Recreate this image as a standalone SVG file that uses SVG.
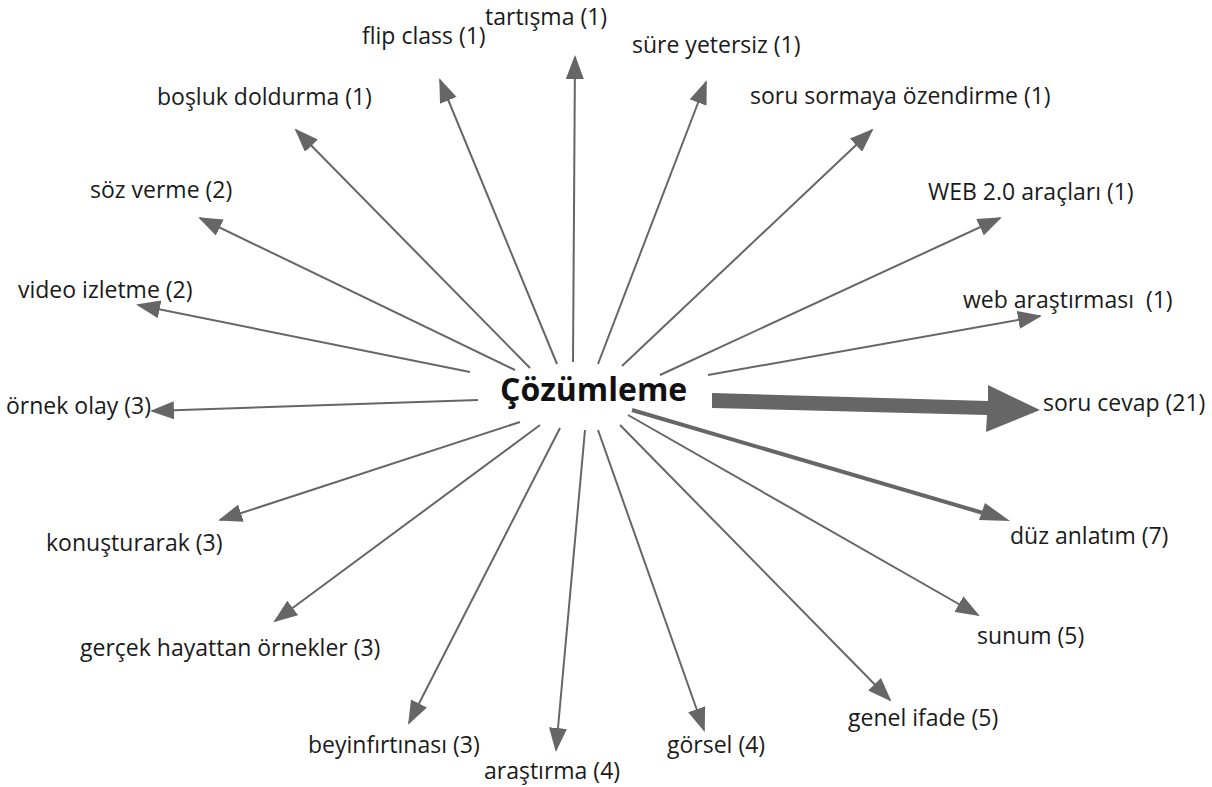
<svg xmlns="http://www.w3.org/2000/svg" width="1212" height="787" viewBox="0 0 1212 787">
<style>
.lbl{font-family:"Open Sans","Noto Sans",sans-serif;font-size:23px;fill:#1a1a1a}
.ctr{font-family:"Open Sans","Noto Sans",sans-serif;font-size:32px;font-weight:bold;fill:#111}
.e{stroke:#666;stroke-width:2;fill:none;marker-end:url(#ah)}
</style>
<defs>
<marker id="ah" viewBox="0 0 24 18" refX="22" refY="9" markerWidth="24" markerHeight="18" markerUnits="userSpaceOnUse" orient="auto">
<path d="M0,0 L24,9 L0,18 z" fill="#666"/>
</marker>
</defs>
<rect width="1212" height="787" fill="#fff"/>
<g id="connectors">
<line class="e" x1="573" y1="362" x2="575" y2="57"/>
<line class="e" x1="557" y1="364" x2="440" y2="80"/>
<line class="e" x1="598" y1="364" x2="706" y2="82"/>
<line class="e" x1="530" y1="368" x2="296" y2="130"/>
<line class="e" x1="622" y1="366" x2="872" y2="130"/>
<line class="e" x1="515" y1="370" x2="200" y2="218"/>
<line class="e" x1="660" y1="375" x2="1000" y2="218"/>
<line class="e" x1="470" y1="372" x2="138" y2="305"/>
<line class="e" x1="708" y1="375" x2="1040" y2="316"/>
<line class="e" x1="478" y1="400" x2="152" y2="411"/>
<line class="e" x1="520" y1="422" x2="220" y2="520"/>
<line class="e" x1="628" y1="415" x2="978" y2="615"/>
<line class="e" x1="540" y1="425" x2="275" y2="621"/>
<line class="e" x1="620" y1="425" x2="890" y2="700"/>
<line class="e" x1="560" y1="428" x2="409" y2="723"/>
<line class="e" x1="585" y1="430" x2="556" y2="750"/>
<line class="e" x1="598" y1="430" x2="704" y2="730"/>
<line x1="632" y1="410" x2="990" y2="515" stroke="#666" stroke-width="4"/>
<path d="M1010,521 L979,520 L985,503 z" fill="#666"/>
<path d="M712,393 L988,401 L988,385 L1040,410 L986,432 L987,415 L712,408 z" fill="#666"/>
</g>
<g id="n-center"><text class="ctr" x="500" y="401">Çözümleme</text></g>
<g id="n1"><text class="lbl" x="485" y="25">tartışma (1)</text></g>
<g id="n2"><text class="lbl" x="362" y="44">flip class (1)</text></g>
<g id="n3"><text class="lbl" x="632" y="53">süre yetersiz (1)</text></g>
<g id="n4"><text class="lbl" x="157" y="105">boşluk doldurma (1)</text></g>
<g id="n5"><text class="lbl" x="750" y="104">soru sormaya özendirme (1)</text></g>
<g id="n6"><text class="lbl" x="90" y="198">söz verme (2)</text></g>
<g id="n7"><text class="lbl" x="928" y="200">WEB 2.0 araçları (1)</text></g>
<g id="n8"><text class="lbl" x="18" y="298">video izletme (2)</text></g>
<g id="n9"><text class="lbl" x="963" y="308" xml:space="preserve">web araştırması  (1)</text></g>
<g id="n10"><text class="lbl" x="6" y="414">örnek olay (3)</text></g>
<g id="n11"><text class="lbl" x="1043" y="411">soru cevap (21)</text></g>
<g id="n12"><text class="lbl" x="1010" y="544">düz anlatım (7)</text></g>
<g id="n13"><text class="lbl" x="46" y="551">konuşturarak (3)</text></g>
<g id="n14"><text class="lbl" x="977" y="644">sunum (5)</text></g>
<g id="n15"><text class="lbl" x="80" y="656">gerçek hayattan örnekler (3)</text></g>
<g id="n16"><text class="lbl" x="848" y="726">genel ifade (5)</text></g>
<g id="n17"><text class="lbl" x="308" y="753">beyinfırtınası (3)</text></g>
<g id="n18"><text class="lbl" x="484" y="779">araştırma (4)</text></g>
<g id="n19"><text class="lbl" x="667" y="753">görsel (4)</text></g>
</svg>
